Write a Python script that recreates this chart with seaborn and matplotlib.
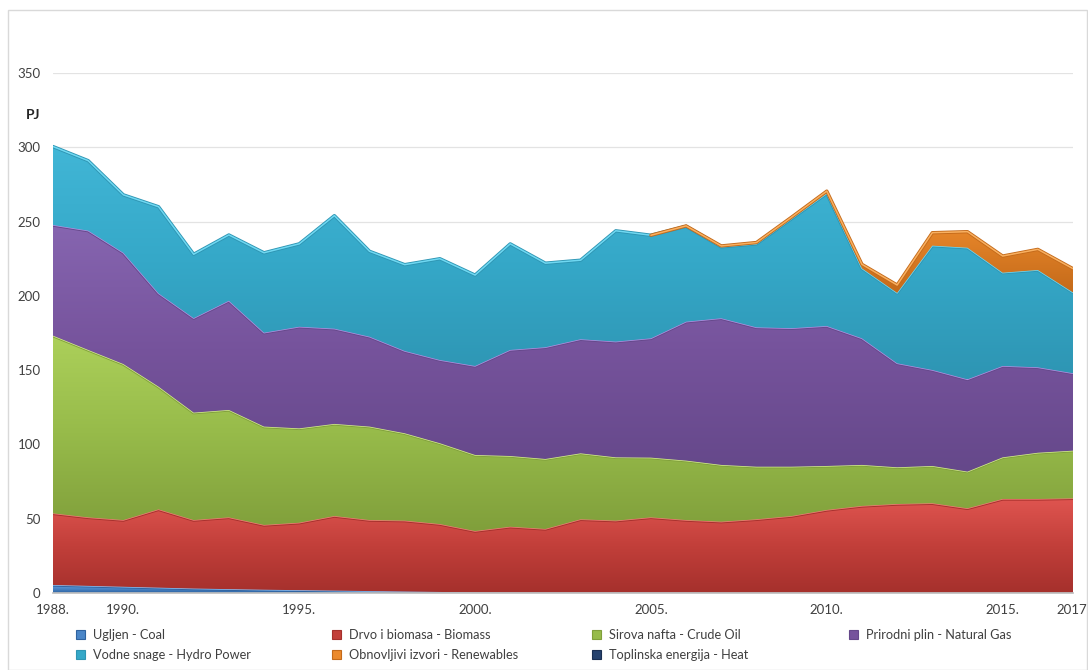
import numpy as np
import pandas as pd
import matplotlib
matplotlib.use("Agg")
import matplotlib.pyplot as plt
import seaborn as sns
from matplotlib.patches import Patch, PathPatch, Rectangle
from matplotlib.colors import LinearSegmentedColormap

# ---------------- data (PJ) ----------------
years = list(range(1988, 2018))
coal = [5.4, 4.8, 4.2, 3.6, 3.0, 2.6, 2.2, 1.9, 1.6, 1.3, 1.0, 0.7, 0.4, 0.3, 0.2,
        0.2, 0.2, 0.2, 0.2, 0.1, 0.1, 0.1, 0.1, 0.1, 0.1, 0.1, 0.1, 0.1, 0.1, 0.1]
biomass = [48.2, 46.1, 44.9, 52.7, 46.1, 48.3, 43.6, 45.4, 50.2, 47.8, 47.7, 45.7, 41.3, 44.3, 42.9,
           49.4, 48.5, 50.7, 48.9, 47.9, 49.5, 51.7, 55.8, 58.5, 59.8, 60.3, 56.9, 63.2, 63.2, 63.6]
crude_oil = [119.6, 112.7, 105.0, 82.6, 72.3, 72.3, 66.2, 63.5, 62.0, 62.9, 58.8, 54.4, 51.2, 47.6, 47.1,
             44.4, 42.6, 40.2, 40.0, 38.2, 35.4, 33.2, 29.6, 27.6, 24.7, 25.1, 24.7, 28.0, 31.1, 32.1]
natural_gas = [74.5, 80.3, 74.9, 62.8, 63.6, 73.5, 63.2, 68.4, 64.1, 60.5, 55.4, 56.0, 59.9, 71.4, 75.2,
               76.8, 77.9, 80.3, 93.5, 98.7, 93.8, 93.2, 94.2, 85.2, 70.0, 64.6, 62.1, 61.5, 57.5, 52.1]
hydro = [52.8, 47.1, 39.0, 58.3, 43.0, 44.3, 53.8, 55.8, 76.1, 57.5, 58.1, 68.2, 61.2, 71.4, 56.6,
         53.2, 74.6, 69.4, 64.2, 48.1, 56.2, 73.8, 89.3, 47.1, 47.4, 83.7, 88.6, 62.8, 65.5, 54.4]
renewables = [0, 0, 0, 0, 0, 0, 0, 0, 0, 0, 0, 0, 0, 0, 0,
              0, 0, 0, 0.3, 0.6, 0.9, 1.0, 1.5, 2.7, 5.3, 8.7, 10.8, 11.2, 13.9, 16.0]
heat = [0] * 30

series_names = ["Ugljen - Coal", "Drvo i biomasa - Biomass", "Sirova nafta - Crude Oil",
                "Prirodni plin - Natural Gas", "Vodne snage - Hydro Power",
                "Obnovljivi izvori - Renewables", "Toplinska energija - Heat"]
series_values = [coal, biomass, crude_oil, natural_gas, hydro, renewables, heat]
base_colors = ["#4a86c8", "#c23f3a", "#97bb4a", "#76539c", "#35a8c8", "#ec8a2c", "#26426e"]
light_colors = ["#6fa5e0", "#df5550", "#acd05a", "#8665b0", "#41b6d6", "#f7a24c", "#3d5f95"]
dark_colors = ["#2f63a0", "#a5302c", "#809f3b", "#65488a", "#2e95b3", "#c46a1a", "#1a2f52"]
edge_hi = ["#8cbdf0", "#f07a74", "#d2ec8a", "#b08ee0", "#6fd8f2", "#f9b060", "#5a7cb5"]
x_labels = {1988: "1988.", 1990: "1990.", 1995: "1995.", 2000: "2000.",
            2005: "2005.", 2010: "2010.", 2015: "2015.", 2017: "2017."}

# ---------------- style ----------------
sns.set_theme(style="white")
plt.rcParams["font.family"] = ["Lato", "DejaVu Sans"]

fig = plt.figure(figsize=(10.88, 6.70), dpi=100)
ax = fig.add_axes([53 / 1088, 77 / 670, 1020 / 1088, 520 / 670])

df = pd.DataFrame({"year": years})
for name, vals in zip(series_names, series_values):
    df[name] = vals
cum = df[series_names].cumsum(axis=1)

lower = np.zeros(len(years))
for i, name in enumerate(series_names):
    vals = np.asarray(series_values[i], dtype=float)
    upper = cum[name].to_numpy()
    if np.all(vals == 0):
        lower = upper
        continue
    poly = ax.fill_between(df["year"], lower, upper, facecolor="none", edgecolor="none", zorder=2 + i)
    path = poly.get_paths()[0]
    clip = PathPatch(path, transform=ax.transData, facecolor="none", edgecolor="none")
    ax.add_patch(clip)
    cmap = LinearSegmentedColormap.from_list(f"g{i}", [dark_colors[i], base_colors[i], light_colors[i]])
    ymin, ymax = float(lower.min()), float(upper.max())
    grad = np.linspace(0, 1, 256).reshape(-1, 1)
    im = ax.imshow(grad, cmap=cmap, origin="lower", aspect="auto",
                   extent=[years[0], years[-1], ymin, ymax], zorder=2 + i, interpolation="bicubic")
    im.set_clip_path(clip)
    # edge only where the layer has thickness (or touches a segment that has)
    nz = vals > 0
    show = nz | np.r_[nz[1:], False] | np.r_[False, nz[:-1]]
    edge_v = np.where(show, upper, np.nan)
    edge_df = pd.DataFrame({"year": years, "v": edge_v})
    sns.lineplot(data=edge_df, x="year", y="v", ax=ax, color=dark_colors[i], lw=2.4,
                 zorder=2.5 + i, legend=False)
    sns.lineplot(data=edge_df, x="year", y="v", ax=ax, color=edge_hi[i], lw=1.1,
                 zorder=2.6 + i, legend=False)
    lower = upper

ax.set_xlim(years[0], years[-1])
ax.set_ylim(0, 350)
ax.set_yticks(range(0, 351, 50))
ax.set_xticks(years)
ax.set_xticklabels([x_labels.get(y, "") for y in years])
ax.yaxis.grid(True, color="#e3e3e3", lw=0.9, zorder=0)
ax.xaxis.grid(False)
ax.set_axisbelow(True)
for s in ["left", "top", "right"]:
    ax.spines[s].set_visible(False)
ax.spines["bottom"].set_color("#bfbfbf")
ax.spines["bottom"].set_zorder(20)
ax.tick_params(axis="x", which="major", direction="out", length=5, color="#bfbfbf",
               labelsize=9.5, labelcolor="#404040", pad=3)
ax.tick_params(axis="y", length=0, labelsize=9.5, labelcolor="#404040", pad=9)
ax.set_xlabel("")
ax.set_ylabel("")

fig.text(33 / 1088, 1 - 115 / 670, "PJ", fontsize=10, fontweight="bold", color="#262626",
         ha="center", va="center")

# legend: 4 columns, row-major, each column placed separately
handles = [Patch(facecolor=base_colors[i], edgecolor=dark_colors[i], lw=0.8) for i in range(7)]
columns = [[0, 4], [1, 5], [2, 6], [3]]
col_x = [76, 332, 592, 849]
for cx, idx in zip(col_x, columns):
    leg = fig.legend([handles[i] for i in idx], [series_names[i] for i in idx],
                     loc="upper left", bbox_to_anchor=(cx / 1088, 1 - 629 / 670),
                     frameon=False, fontsize=9.2, handlelength=0.7, handleheight=0.7,
                     handletextpad=0.6, labelspacing=0.6, borderpad=0.0, borderaxespad=0.0)
    for t in leg.get_texts():
        t.set_color("#404040")

fig.patches.append(Rectangle((8 / 1088, 0), 1 - 9 / 1088, 1 - 10 / 670, transform=fig.transFigure,
                             fill=False, edgecolor="#d9d9d9", lw=1))

fig.savefig("out.png", dpi=100, facecolor="white")
